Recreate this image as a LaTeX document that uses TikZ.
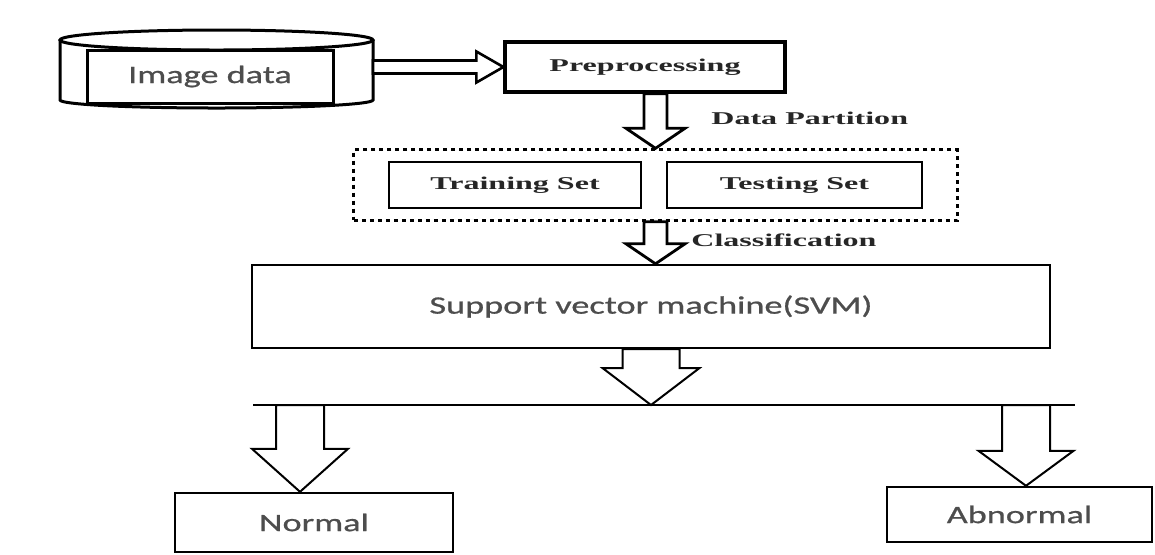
\documentclass[tikz,border=0pt]{standalone}
\usepackage{fontspec}
\usetikzlibrary{positioning, calc, fit}

\newfontfamily\calfont[FakeStretch=1.45, FakeBold=0.8]{Carlito}
\newfontfamily\timesfont[FakeStretch=1.78]{Liberation Serif}
\definecolor{txtgray}{HTML}{4D4D4D}

% hollow block arrow: [opts]{from}{to}{shaft half width}{head half width}{head length}
\newcommand{\blockarrow}[6][]{%
  \coordinate (ba-base) at ($(#3)!#6!(#2)$);
  \draw[hollow, #1] ($(#2)!#4!90:(#3)$) -- ($(ba-base)!#4!90:(#3)$) -- ($(ba-base)!#5!90:(#3)$) -- (#3)
    -- ($(ba-base)!#5!-90:(#3)$) -- ($(ba-base)!#4!-90:(#3)$) -- ($(#2)!#4!-90:(#3)$) -- cycle;}

\begin{document}
\begin{tikzpicture}[
    x=0.5pt, y=-0.5pt,
    box/.style={rectangle, draw=black, line width=1.2pt, fill=white, align=center, inner sep=0pt},
    stepbox/.style={box, font=\timesfont\bfseries\fontsize{9}{10}\selectfont, text=black!85},
    outbox/.style={box, font=\calfont\fontsize{12.5}{14}\selectfont, text=txtgray},
    container/.style={rectangle, draw=black, line width=1.5pt, dash pattern=on 2pt off 2pt, inner xsep=17pt, inner ysep=5.5pt},
    hollow/.style={draw=black, line width=1pt, fill=white, line join=miter},
    steplabel/.style={anchor=west, inner sep=0pt, font=\timesfont\bfseries\fontsize{9}{10}\selectfont, text=black!85}
]
\useasboundingbox (0,0) rectangle (1155,554);

% Image data store
\draw[line width=1.5pt] (60,40) -- (60,100) arc[start angle=180, end angle=360, x radius=78.25pt, y radius=4pt] -- (373,40);
\draw[line width=1.5pt] (216.5,40) ellipse[x radius=78.25pt, y radius=5pt];
\node[outbox, line width=1.5pt, minimum width=123pt, minimum height=26.5pt] (img) at (210,76.5) {Image data};
\coordinate (disc-e) at (373,67);

% Preprocessing
\node[stepbox, line width=1.6pt, minimum width=140pt, minimum height=25pt] (pre) at (645,67) {Preprocessing};
\blockarrow[line width=1.3pt]{disc-e}{pre.west}{3.25pt}{7.75pt}{13.5pt}

% Data partition
\node[stepbox, minimum width=126pt, minimum height=23pt] (train) at (515,185) {Training Set};
\node[stepbox, minimum width=127.5pt, minimum height=23pt] (test) at (794.5,185) {Testing Set};
\node[container, fit=(train) (test)] (split) {};
\coordinate (pre-s) at (split.north |- pre.south);
\blockarrow[line width=1.4pt]{pre-s}{split.north}{5.75pt}{14.75pt}{10pt}
\node[steplabel] (dp) at (711,118) {Data Partition};

% Classifier
\node[outbox, minimum width=399pt, minimum height=41.5pt] (svm) at (651,306.5) {Support vector machine(SVM)};
\coordinate (svm-n) at (split.south |- svm.north);
\blockarrow[line width=1.4pt]{split.south}{svm-n}{5.75pt}{14.75pt}{10pt}
\node[steplabel] (cls) at (691,240) {Classification};

% Output classes
\coordinate (bar-w) at (253,405);
\coordinate (bar-e) at (1075,405);
\draw[line width=1.2pt] (bar-w) -- (bar-e);
\coordinate (bar-c) at (svm.south |- bar-w);
\blockarrow{svm.south}{bar-c}{14.25pt}{24.25pt}{18.5pt}

\node[outbox, minimum width=139pt, minimum height=29.5pt] (normal) at (314,522.5) {Normal};
\node[outbox, minimum width=132.5pt, minimum height=27.5pt] (abnormal) at (1019.5,514.5) {Abnormal};
\coordinate (bar-n) at (300,405);
\coordinate (normal-n) at (bar-n |- normal.north);
\blockarrow{bar-n}{normal-n}{12pt}{24pt}{21.5pt}
\coordinate (bar-a) at (1026,405);
\coordinate (abnormal-n) at (bar-a |- abnormal.north);
\blockarrow{bar-a}{abnormal-n}{12pt}{23.75pt}{17.5pt}

\end{tikzpicture}
\end{document}
